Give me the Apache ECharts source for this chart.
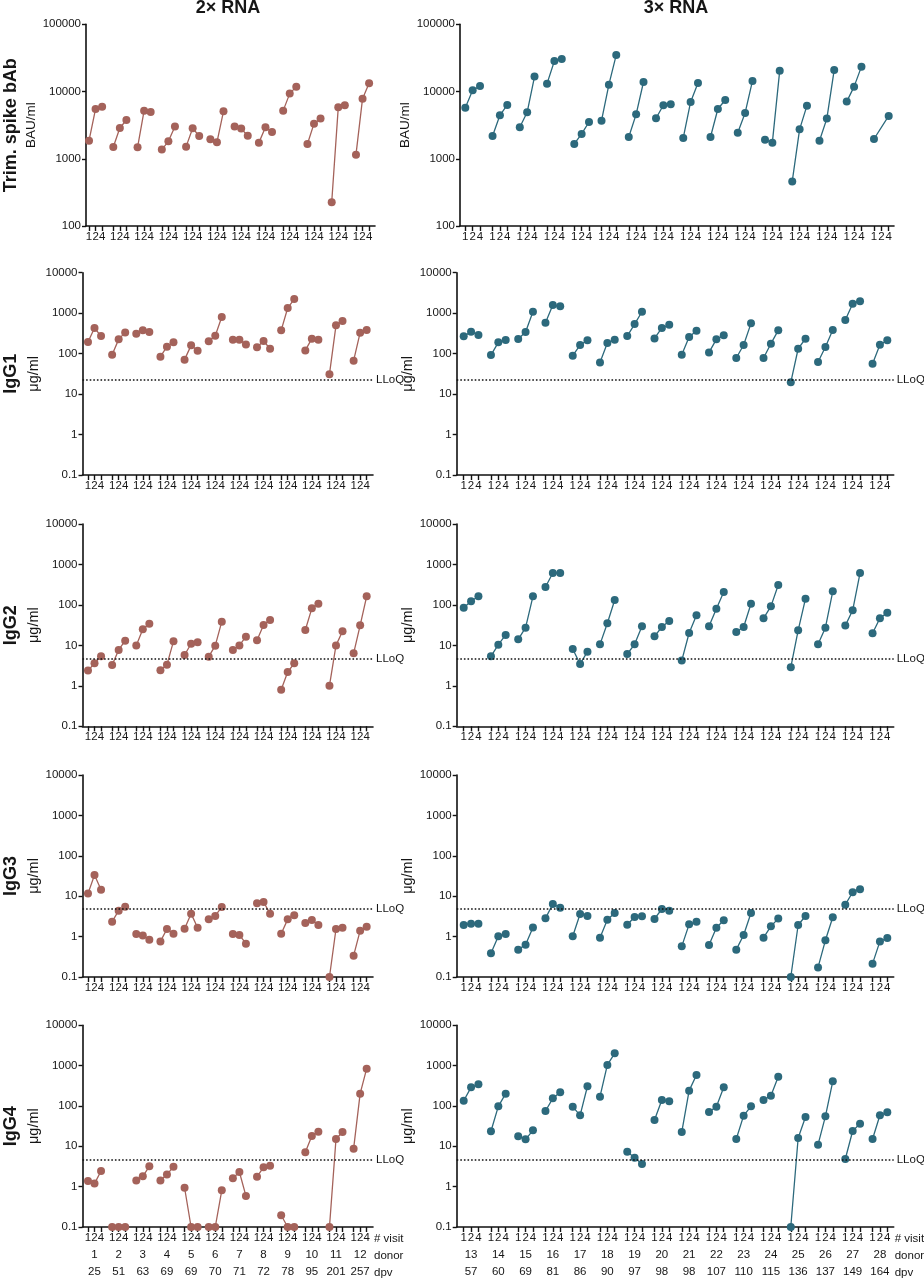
<!DOCTYPE html>
<html><head><meta charset="utf-8">
<script src="https://cdn.jsdelivr.net/npm/echarts@6/dist/echarts.min.js"></script>
<style>html,body{margin:0;padding:0;background:#fff}#c{width:924px;height:1280px}</style>
</head><body><div id="c"></div>
<script>
// ---------------- data ----------------
const visitLabels = ['1', '2', '4'];
const donors2x = [1,2,3,4,5,6,7,8,9,10,11,12];
const dpv2x = [25,51,63,69,69,70,71,72,78,95,201,257];
const donors3x = [13,14,15,16,17,18,19,20,21,22,23,24,25,26,27,28];
const dpv3x = [57,60,69,81,86,90,97,98,98,107,110,115,136,137,149,164];
const columnTitles = ['2× RNA', '3× RNA'];
const rowTitles = ['Trim. spike bAb', 'IgG1', 'IgG2', 'IgG3', 'IgG4'];
const rowUnits = ['BAU/ml', 'μg/ml', 'μg/ml', 'μg/ml', 'μg/ml'];
const lloqValues = [null, 22, 4.7, 4.8, 4.7];
const yTicksSpike = [100, 1000, 10000, 100000];
const yTicksIgG = [0.1, 1, 10, 100, 1000, 10000];

// each inner array: values at visit 1, 2, 4 for one donor
const spike2x = [[1858,5500,5950],[1496,2870,3775],[1480,5200,4970],[1368,1820,3010],[1514,2840,2183],[1945,1757,5080],[3010,2810,2200],[1738,2940,2500],[5200,9310,11830],[1660,3330,3955],[225,5820,6240],[1150,7830,13250]];
const spike3x = [[5750,10420,12110],[2183,4430,6310],[2940,4910,16680],[13100,28500,30470],[1660,2340,3520],[3690,12640,35000],[2110,4580,13870],[4000,6240,6450],[2040,7000,13400],[2110,5500,7480],[2445,4800,14360],[1925,1738,20460],[461,2740,6170],[1858,3955,20940],[7080,11830,23460],[1968,null,4330]];
const igg1_2x = [[194,430,272],[94,225,335],[311,376,342],[84,148,190],[71,160,118],[201,277,801],[221,221,169],[143,205,132],[376,1340,2233],[120,234,221],[31,500,640],[67,329,383]];
const igg1_3x = [[267,348,288],[92,190,217],[230,342,1086],[580,1588,1472],[89,163,213],[60,183,221],[272,538,1086],[238,430,519],[94,257,369],[107,225,283],[78,163,560],[78,176,376],[19.5,132,234],[62,146,383],[676,1715,1958],[56,166,213]];
const igg2_2x = [[2.38,3.61,5.37],[3.28,7.69,13.1],[10.0,24.9,34.4],[2.42,3.34,12.6],[5.8,11.0,11.9],[5.27,9.85,38.5],[7.69,10.0,16.4],[13.3,31.9,42.5],[0.805,2.2,3.61],[24.0,82.4,107],[1.01,10.0,22.3],[6.36,31.3,163]];
const igg2_3x = [[85.5,123,163],[5.37,10.4,18.1],[14.1,27.4,163],[277,615,615],[8.15,3.47,7.0],[10.6,35.1,132],[6.12,10.6,29.6],[16.7,28.5,40.1],[4.2,20.2,55.3],[29.6,80.9,209],[21.4,28.5,107],[46.7,92.2,311],[2.87,23.6,143],[10.6,27.4,217],[30.8,73.6,615],[19.9,46.7,64.4]];
const igg3_2x = [[11.6,33.5,14.5],[2.34,4.38,5.51],[1.16,1.07,0.84],[0.76,1.54,1.18],[1.57,3.70,1.66],[2.67,3.24,5.41],[1.16,1.10,0.67],[6.65,7.18,3.70],[1.18,2.67,3.36],[2.17,2.58,1.94],[0.1,1.54,1.66],[0.337,1.40,1.76]];
const igg3_3x = [[1.94,2.09,2.09],[0.386,1.02,1.16],[0.475,0.63,1.69],[2.83,6.41,5.20],[1.02,3.62,3.24],[0.94,2.62,3.84],[1.97,3.06,3.18],[2.73,4.82,4.38],[0.574,2.01,2.34],[0.62,1.66,2.53],[0.475,1.10,3.84],[0.94,1.80,2.79],[0.1,1.94,3.24],[0.173,0.81,3.01],[6.17,12.5,14.8],[0.214,0.76,0.92]];
const igg4_2x = [[1.38,1.19,2.44],[0.1,0.1,0.1],[1.43,1.80,3.19],[1.43,1.99,3.13],[0.94,0.1,0.1],[0.1,0.1,0.81],[1.61,2.31,0.59],[1.77,3.01,3.32],[0.195,0.1,0.1],[7.1,18.0,23.1],[0.1,15.2,22.6],[8.75,202,843]];
const igg4_3x = [[135,290,345],[23.6,98,202],[17.7,14.9,24.9],[75.2,155,218],[96,58.7,308],[170,1040,2020],[7.38,5.24,3.65],[45,141,131],[22.6,240,587],[71,96,290],[15.2,57.5,98],[141,180,533],[0.1,16.1,53.3],[11.0,55.5,409],[4.85,24.0,36.5],[15.2,58.7,69.7]];

const panels = [
  [spike2x, igg1_2x, igg2_2x, igg3_2x, igg4_2x],
  [spike3x, igg1_3x, igg2_3x, igg3_3x, igg4_3x]
];
const donorsByCol = [donors2x, donors3x];
const dpvByCol = [dpv2x, dpv3x];

// ---------------- layout / style ----------------
const FONT = '"Liberation Sans", Arial, Helvetica, sans-serif';
const TXT = '#161616';
const AX = '#111';
const colColors = ['#a4625a', '#2c697c'];
const STEP = 3.7; // group spacing in x units (visits are 1 unit apart)
const rowTop = [24.3, 272.7, 524, 775, 1025.3];
const rowH = [201.7, 202.3, 202.3, 202, 201.7];
const colGeom = [
  { first: { l: 86, r: 375, min: -0.46, max: 43.6 }, other: { l: 82.5, r: 373, min: -0.84, max: 43.67 } },
  { first: { l: 460, r: 894, min: -0.72, max: 58.22 }, other: { l: 456.7, r: 893.7, min: -0.95, max: 58.37 } }
];

function xOf(g, v) { return Math.round((g * STEP + v) * 1000) / 1000; }
function key(x) { return Math.round(x * 1000); }
function seriesData(groups) {
  const d = [];
  groups.forEach((vals, g) => {
    vals.forEach((y, v) => { if (y != null) d.push([xOf(g, v), y]); });
    d.push([xOf(g, 2.5), '-']);
  });
  return d;
}
function fmtY(v) { return v < 1 ? (Math.round(v * 10) / 10).toFixed(1) : String(Math.round(v)); }

const grids = [], xAxes = [], yAxes = [], series = [], graphics = [];
const nameStyle = { fontSize: 11.5, color: TXT, fontFamily: FONT, align: 'left', verticalAlign: 'top', padding: [6, 0, 0, 0] };

for (let r = 0; r < 5; r++) {
  for (let c = 0; c < 2; c++) {
    const geo = r === 0 ? colGeom[c].first : colGeom[c].other;
    const gi = grids.length;
    grids.push({ left: geo.l, top: rowTop[r], width: geo.r - geo.l, height: rowH[r], containLabel: false, outerBoundsMode: 'none' });
    const groups = panels[c][r];
    const tickVals = [], tickMap = {};
    groups.forEach((_, g) => {
      for (let v = 0; v < 3; v++) { const x = xOf(g, v); tickVals.push(x); tickMap[key(x)] = visitLabels[v]; }
    });
    const xi = xAxes.length;
    xAxes.push({
      type: 'value', gridIndex: gi, min: geo.min, max: geo.max, position: 'bottom',
      axisLine: { show: true, onZero: false, lineStyle: { color: AX, width: 1.6 } },
      axisTick: { show: true, customValues: tickVals, length: 5, lineStyle: { color: AX, width: 1.4 } },
      axisLabel: { show: true, customValues: tickVals, formatter: (val) => tickMap[key(val)] || '', margin: 5, fontSize: 11.5, color: TXT, fontFamily: FONT },
      splitLine: { show: false },
      name: r === 4 ? '# visit' : '', nameLocation: 'end', nameGap: 1, nameMoveOverlap: false, nameTextStyle: nameStyle
    });
    if (r === 4) {
      const donors = donorsByCol[c], dpv = dpvByCol[c];
      const centers = [], dMap = {}, pMap = {};
      groups.forEach((_, g) => { const x = xOf(g, 1); centers.push(x); dMap[key(x)] = String(donors[g]); pMap[key(x)] = String(dpv[g]); });
      [[dMap, 'donor', 16.7], [pMap, 'dpv', 33.4]].forEach(([m, nm, off]) => {
        xAxes.push({
          type: 'value', gridIndex: gi, min: geo.min, max: geo.max, position: 'bottom', offset: off,
          axisLine: { show: false, onZero: false }, axisTick: { show: false },
          axisLabel: { show: true, customValues: centers, formatter: (val) => m[key(val)] || '', margin: 5, fontSize: 11.5, color: TXT, fontFamily: FONT },
          splitLine: { show: false },
          name: nm, nameLocation: 'end', nameGap: 1, nameMoveOverlap: false, nameTextStyle: nameStyle
        });
      });
    }
    const yTicks = r === 0 ? yTicksSpike : yTicksIgG;
    const yi = yAxes.length;
    yAxes.push({
      type: 'log', logBase: 10, gridIndex: gi, min: yTicks[0], max: yTicks[yTicks.length - 1],
      axisLine: { show: true, onZero: false, lineStyle: { color: AX, width: 1.6 } },
      axisTick: { show: true, customValues: yTicks, length: 4, lineStyle: { color: AX, width: 1.4 } },
      axisLabel: { show: true, customValues: yTicks, formatter: fmtY, margin: 5, fontSize: 11.5, color: TXT, fontFamily: FONT },
      splitLine: { show: false }, minorTick: { show: false },
      name: rowUnits[r], nameLocation: 'middle', nameGap: r === 0 ? 46 : 41,
      nameTextStyle: { fontSize: r === 0 ? 13.5 : 14.5, color: TXT, fontFamily: FONT }
    });
    const s = {
      type: 'line', xAxisIndex: xi, yAxisIndex: yi, data: seriesData(groups),
      symbol: 'circle', symbolSize: 8, showSymbol: true, clip: false, connectNulls: false,
      lineStyle: { color: colColors[c], width: 1.3 },
      itemStyle: { color: colColors[c] },
      emphasis: { disabled: true }, silent: true, z: 3
    };
    if (lloqValues[r] != null) {
      s.markLine = {
        silent: true, symbol: ['none', 'none'], animation: false,
        lineStyle: { color: '#111', type: [1.6, 2.0], width: 1.6 },
        label: { show: true, position: 'end', formatter: 'LLoQ', distance: 3, fontSize: 11.5, color: TXT, fontFamily: FONT },
        data: [{ yAxis: lloqValues[r] }]
      };
    }
    series.push(s);
  }
  graphics.push({
    type: 'text', x: 11, y: rowTop[r] + rowH[r] / 2, rotation: Math.PI / 2,
    style: { text: rowTitles[r], fontSize: 18, fontWeight: 'bold', fontFamily: FONT, fill: TXT, align: 'center', verticalAlign: 'middle' }
  });
}
graphics.push({ type: 'text', x: 228, y: 8, style: { text: columnTitles[0], fontSize: 18, fontWeight: 'bold', fontFamily: FONT, fill: TXT, align: 'center', verticalAlign: 'middle' } });
graphics.push({ type: 'text', x: 676, y: 8, style: { text: columnTitles[1], fontSize: 18, fontWeight: 'bold', fontFamily: FONT, fill: TXT, align: 'center', verticalAlign: 'middle' } });

const chart = echarts.init(document.getElementById('c'), null, { renderer: 'canvas' });
chart.setOption({
  animation: false, backgroundColor: '#fff',
  grid: grids, xAxis: xAxes, yAxis: yAxes, series: series, graphic: graphics
});
</script></body></html>
